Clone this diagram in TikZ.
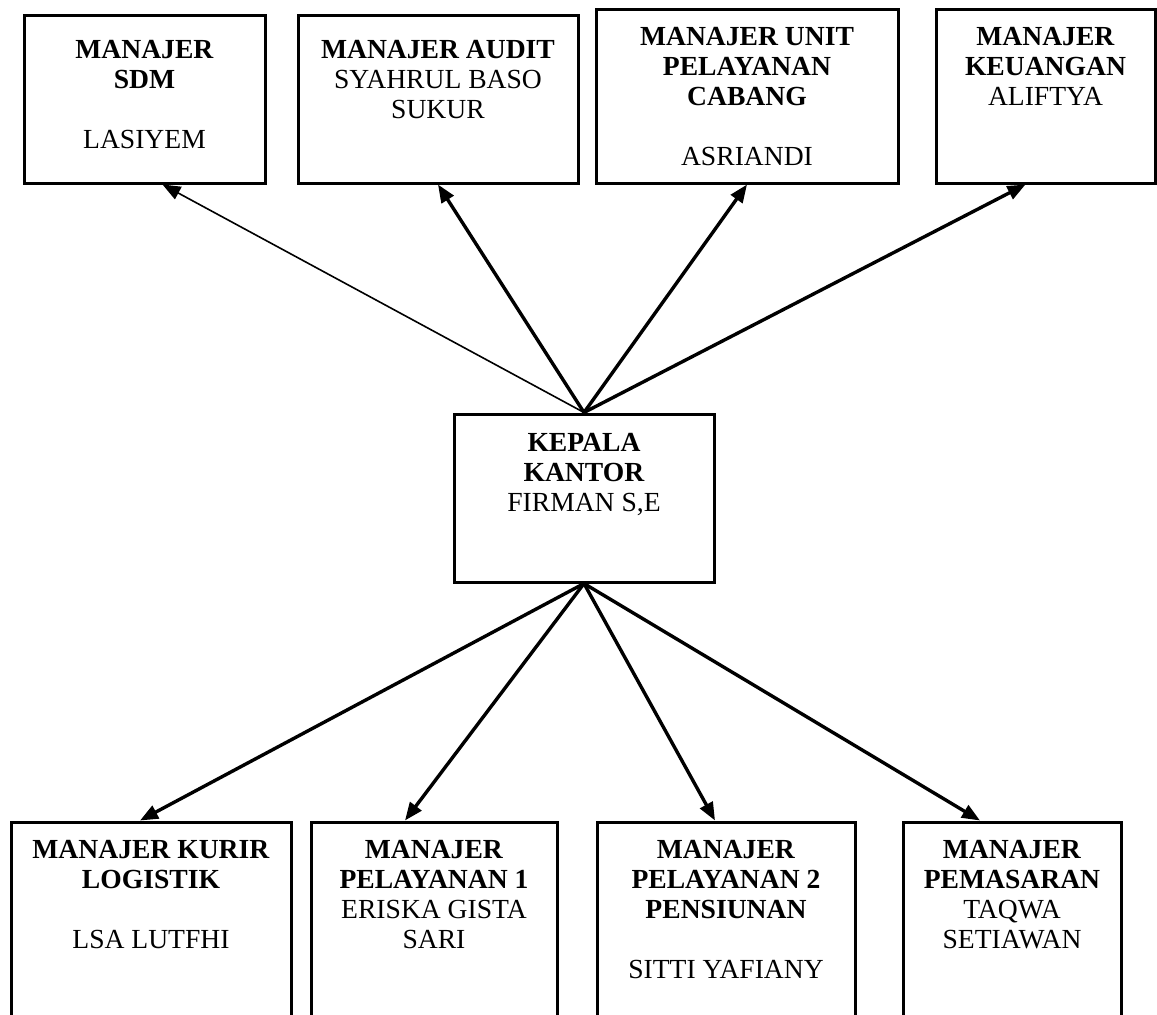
\documentclass[tikz,border=0pt]{standalone}
\usepackage{fontspec}
\setmainfont{Liberation Serif}
\usetikzlibrary{arrows.meta}

\begin{document}
\begin{tikzpicture}[x=0.5pt, y=-0.5pt,
        kotak/.style={draw, line width=1.5pt, rectangle, inner sep=0pt},
        isi/.style={anchor=north, inner sep=0pt, align=center, font=\fontsize{13.8}{15}\selectfont},
        panah/.style={line width=1.7pt, -{Triangle[length=9pt, width=7pt]}}]
                \useasboundingbox (0,0) rectangle (1157,1014);
                \clip (0,0) rectangle (1157,1014);
                % baris atas
                \node[kotak, minimum width=120.5pt, minimum height=84pt] (sdm) at (144.5,99) {};
                \node[kotak, minimum width=140pt, minimum height=84pt] (audit) at (438,99) {};
                \node[kotak, minimum width=151pt, minimum height=87pt] (unit) at (747,96) {};
                \node[kotak, minimum width=109.5pt, minimum height=87pt] (keu) at (1045.5,96) {};
                \node[isi] (sdmT) at (sdm.north |- 0,40) {\textbf{MANAJER}\\\textbf{SDM}\\[15pt]LASIYEM};
                \node[isi] (auditT) at (audit.north |- 0,40) {\textbf{MANAJER AUDIT}\\SYAHRUL BASO\\SUKUR};
                \node[isi] (unitT) at (unit.north |- 0,27) {\textbf{MANAJER UNIT}\\\textbf{PELAYANAN}\\\textbf{CABANG}\\[15pt]ASRIANDI};
                \node[isi] (keuT) at (keu.north |- 0,27) {\textbf{MANAJER}\\\textbf{KEUANGAN}\\ALIFTYA};
                % kepala kantor
                \node[kotak, minimum width=130pt, minimum height=84pt] (kepala) at (584,498) {};
                \node[isi] (kepalaT) at (kepala.north |- 0,433) {\textbf{KEPALA}\\\textbf{KANTOR}\\FIRMAN S,E};
                % baris bawah
                \node[kotak, minimum width=140pt, minimum height=110pt] (kurir) at (151,932) {};
                \node[kotak, minimum width=123pt, minimum height=110pt] (layan1) at (434,932) {};
                \node[kotak, minimum width=129pt, minimum height=110pt] (layan2) at (726,932) {};
                \node[kotak, minimum width=109pt, minimum height=110pt] (pasar) at (1012,932) {};
                \node[isi] (kurirT) at (kurir.north |- 0,840) {\textbf{MANAJER KURIR}\\\textbf{LOGISTIK}\\[15pt]LSA LUTFHI};
                \node[isi] (layan1T) at (layan1.north |- 0,840) {\textbf{MANAJER}\\\textbf{PELAYANAN 1}\\ERISKA GISTA\\SARI};
                \node[isi] (layan2T) at (layan2.north |- 0,840) {\textbf{MANAJER}\\\textbf{PELAYANAN 2}\\\textbf{PENSIUNAN}\\[15pt]SITTI YAFIANY};
                \node[isi] (pasarT) at (pasar.north |- 0,840) {\textbf{MANAJER}\\\textbf{PEMASARAN}\\TAQWA\\SETIAWAN};
                % panah
                \draw[panah, line width=0.8pt] (kepala.north) -- ([xshift=9pt]sdm.south);
                \draw[panah] (kepala.north) -- (audit.south);
                \draw[panah] (kepala.north) -- (unit.south);
                \draw[panah] (kepala.north) -- ([xshift=-10pt]keu.south);
                \draw[panah] (kepala.south) -- ([xshift=-5.5pt]kurir.north);
                \draw[panah] (kepala.south) -- ([xshift=-14.5pt]layan1.north);
                \draw[panah] (kepala.south) -- ([xshift=-5.5pt]layan2.north);
                \draw[panah] (kepala.south) -- ([xshift=-16pt]pasar.north);
            \end{tikzpicture}
\end{document}
